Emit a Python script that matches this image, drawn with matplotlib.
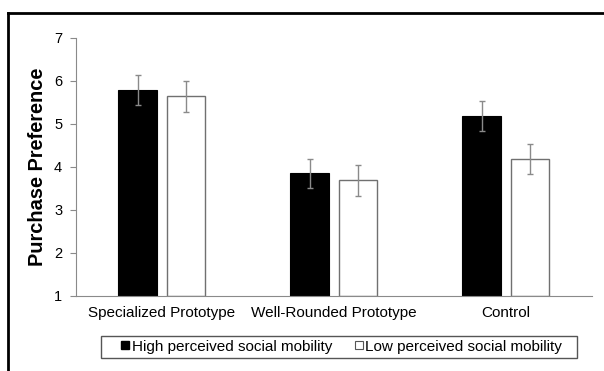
import numpy as np
import matplotlib.pyplot as plt
from matplotlib.patches import Rectangle
from matplotlib.lines import Line2D

plt.rcParams['font.family'] = ['Liberation Sans', 'DejaVu Sans']

# data
categories = ['Specialized Prototype', 'Well-Rounded Prototype', 'Control']
high_mobility = [5.80, 3.85, 5.19]
high_err = [0.35, 0.34, 0.35]
low_mobility = [5.64, 3.69, 4.19]
low_err = [0.36, 0.36, 0.35]
series_labels = ['High perceived social mobility', 'Low perceived social mobility']

fig = plt.figure(figsize=(6.04, 3.71), dpi=100)
ax = fig.add_axes([0.1258, 0.2022, 0.8542, 0.6954])

x = np.arange(len(categories))
width = 0.222
off = 0.142
grey = '#8a8a8a'

ax.bar(x - off, np.array(high_mobility) - 1, width, bottom=1, color='black',
       edgecolor='black', linewidth=0.8)
ax.bar(x + off, np.array(low_mobility) - 1, width, bottom=1, color='white',
       edgecolor='#707070', linewidth=1.0)
ax.errorbar(x - off, high_mobility, yerr=high_err, fmt='none', ecolor=grey,
            elinewidth=1.0, capsize=2, capthick=1.0)
ax.errorbar(x + off, low_mobility, yerr=low_err, fmt='none', ecolor=grey,
            elinewidth=1.0, capsize=2, capthick=1.0)

ax.set_xlim(-0.5, 2.5)
ax.set_ylim(1, 7)
ax.set_yticks(range(1, 8))
ax.set_xticks(x)
ax.set_xticklabels(categories, fontsize=11)
ax.tick_params(axis='y', labelsize=10.5, length=4, color=grey, pad=6)
ax.tick_params(axis='x', length=0, pad=7)
for s in ['top', 'right']:
    ax.spines[s].set_visible(False)
ax.spines['left'].set_color(grey)
ax.spines['bottom'].set_color(grey)
ax.set_ylabel('Purchase Preference', fontsize=14.4, fontweight='bold', labelpad=5)

handles = [
    Line2D([], [], marker='s', linestyle='none', markersize=6.3,
           markerfacecolor='black', markeredgecolor='black'),
    Line2D([], [], marker='s', linestyle='none', markersize=6.3,
           markerfacecolor='white', markeredgecolor='#555555', markeredgewidth=0.8),
]
fig.legend(handles, series_labels, ncol=2, loc='center',
           bbox_to_anchor=(0.5654, 0.0655), fontsize=11, frameon=False,
           handlelength=0.6, handletextpad=0.15, columnspacing=1.4,
           borderpad=0.25)
# legend box
fig.add_artist(Rectangle((101 / 604, 1 - 357.7 / 371), 476 / 604, 22 / 371,
                         transform=fig.transFigure, fill=False,
                         edgecolor='#555555', linewidth=1.0))

# outer frame (top and left visible)
fig.add_artist(Line2D([0.0135, 1.0], [1 - 13 / 371, 1 - 13 / 371],
                      transform=fig.transFigure, color='black', linewidth=2))
fig.add_artist(Line2D([0.0135, 0.0135], [0.0, 1 - 13 / 371],
                      transform=fig.transFigure, color='black', linewidth=2))

fig.savefig('out.png', dpi=100)
